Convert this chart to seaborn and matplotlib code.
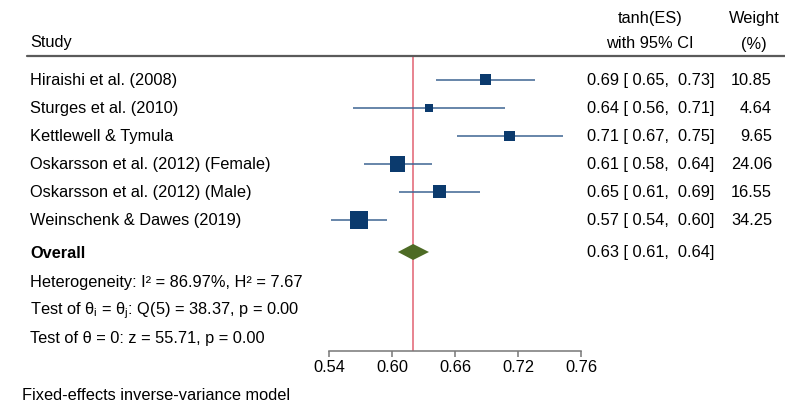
import numpy as np
import matplotlib
matplotlib.use("Agg")
import matplotlib.pyplot as plt
import matplotlib.transforms as mtransforms
from matplotlib.lines import Line2D
import seaborn as sns

# Study-level estimates (tanh scale)
studies = ["Hiraishi et al. (2008)", "Sturges et al. (2010)", "Kettlewell & Tymula",
           "Oskarsson et al. (2012) (Female)", "Oskarsson et al. (2012) (Male)",
           "Weinschenk & Dawes (2019)"]
est = [0.6904, 0.640, 0.7096, 0.6102, 0.6497, 0.570]
ci_lo = [0.6468, 0.564, 0.6655, 0.5757, 0.6117, 0.5392]
ci_hi = [0.729, 0.706, 0.749, 0.643, 0.6859, 0.5997]
weights = [10.85, 4.64, 9.65, 24.06, 16.55, 34.25]

overall_est = 0.6252
overall_lo = 0.6103
overall_hi = 0.6403

stats_lines = ["Heterogeneity: I² = 86.97%, H² = 7.67",
               "Test of θ$_\\mathregular{i}$ = θ$_\\mathregular{j}$: Q(5) = 38.37, p = 0.00",
               "Test of θ = 0: z = 55.71, p = 0.00"]
es_ticks = [0.6, 0.7, 0.8, 0.9, 1.0]

sns.set_theme(style="white")
plt.rcParams['font.family'] = ['Liberation Sans', 'DejaVu Sans']
plt.rcParams['mathtext.fontset'] = 'custom'
plt.rcParams['mathtext.rm'] = 'Liberation Sans'
plt.rcParams['text.color'] = 'black'
plt.rcParams['xtick.color'] = 'black'
FS = 11.8

W, H = 785, 406
fig = plt.figure(figsize=(W / 100, H / 100), dpi=100)
fig.patch.set_facecolor("white")

def fx(px):
    return px / W

def fy(py):
    return 1 - py / H

ax = fig.add_axes([fx(329), fy(352), fx(581) - fx(329), fy(57) - fy(352)])
ax.set_facecolor("white")

row_px = 28.06
rows = np.arange(len(studies))
overall_row = (253 - 80.7) / row_px
stat_rows = [(p - 80.7) / row_px for p in (282.7, 310.7, 339)]
ax.set_ylim((352 - 80.7) / row_px, (57 - 80.7) / row_px)
ax.set_xlim(0.6, 1.0)

# work on the atanh (ES) scale like Stata does
es = np.arctanh(est)
es_lo = np.arctanh(ci_lo)
es_hi = np.arctanh(ci_hi)

ax.axvline(np.arctanh(overall_est), color="#e26272", lw=1.1, zorder=1)
ax.hlines(rows, es_lo, es_hi, color="#3d6592", lw=1.1, zorder=2)
sns.scatterplot(x=es, y=rows, size=weights, sizes=(33, 168), marker="s",
                color="#0b3a6d", linewidth=0, legend=False, ax=ax, zorder=3)

dh = 8 / row_px
d_lo, d_mid, d_hi = np.arctanh([overall_lo, overall_est, overall_hi])
ax.fill([d_lo, d_mid, d_hi, d_mid], [overall_row, overall_row - dh, overall_row, overall_row + dh],
        color="#4d6b25", lw=0, zorder=3)

for s in ["top", "left", "right"]:
    ax.spines[s].set_visible(False)
ax.spines["bottom"].set_color("#777777")
ax.spines["bottom"].set_linewidth(1.1)
ax.set_yticks([])
ax.set_xticks(es_ticks)
ax.set_xticklabels([f"{np.tanh(t):.2f}" for t in es_ticks], fontsize=FS)
ax.tick_params(axis="x", direction="out", length=4, width=1.1, color="#777777",
               pad=2, bottom=True, labelcolor="black")
ax.set_xlabel("")
ax.set_ylabel("")

# text columns
tr = mtransforms.blended_transform_factory(fig.transFigure, ax.transData)
for r, name, e, lo, hi, w in zip(rows, studies, est, ci_lo, ci_hi, weights):
    ax.text(fx(30), r, name, transform=tr, fontsize=FS, va="center", ha="left", clip_on=False)
    ax.text(fx(587), r, f"{e:.2f} [ {lo:.2f},  {hi:.2f}]", transform=tr, fontsize=FS,
            va="center", ha="left", clip_on=False)
    ax.text(fx(772), r, f"{w:.2f}", transform=tr, fontsize=FS, va="center", ha="right", clip_on=False)

ax.text(fx(30), overall_row, "Overall", transform=tr, fontsize=FS, fontweight="bold",
        va="center", ha="left", clip_on=False)
ax.text(fx(587), overall_row, f"{overall_est:.2f} [ {overall_lo:.2f},  {overall_hi:.2f}]",
        transform=tr, fontsize=FS, va="center", ha="left", clip_on=False)
for r, line in zip(stat_rows, stats_lines):
    ax.text(fx(30), r, line, transform=tr, fontsize=FS, va="center", ha="left", clip_on=False)

# header
fig.text(fx(30), fy(43), "Study", fontsize=FS, va="center", ha="left")
fig.text(fx(650), fy(18), "tanh(ES)", fontsize=FS, va="center", ha="center")
fig.text(fx(650), fy(44), "with 95% CI", fontsize=FS, va="center", ha="center")
fig.text(fx(754), fy(18), "Weight", fontsize=FS, va="center", ha="center")
fig.text(fx(754), fy(44), "(%)", fontsize=FS, va="center", ha="center")
fig.add_artist(Line2D([fx(27), 1.0], [fy(57), fy(57)], color="#5a5a5a", lw=1.6))

fig.text(fx(22), fy(396), "Fixed-effects inverse-variance model", fontsize=FS, va="center", ha="left")

fig.savefig("out.png", dpi=100, facecolor="white")
